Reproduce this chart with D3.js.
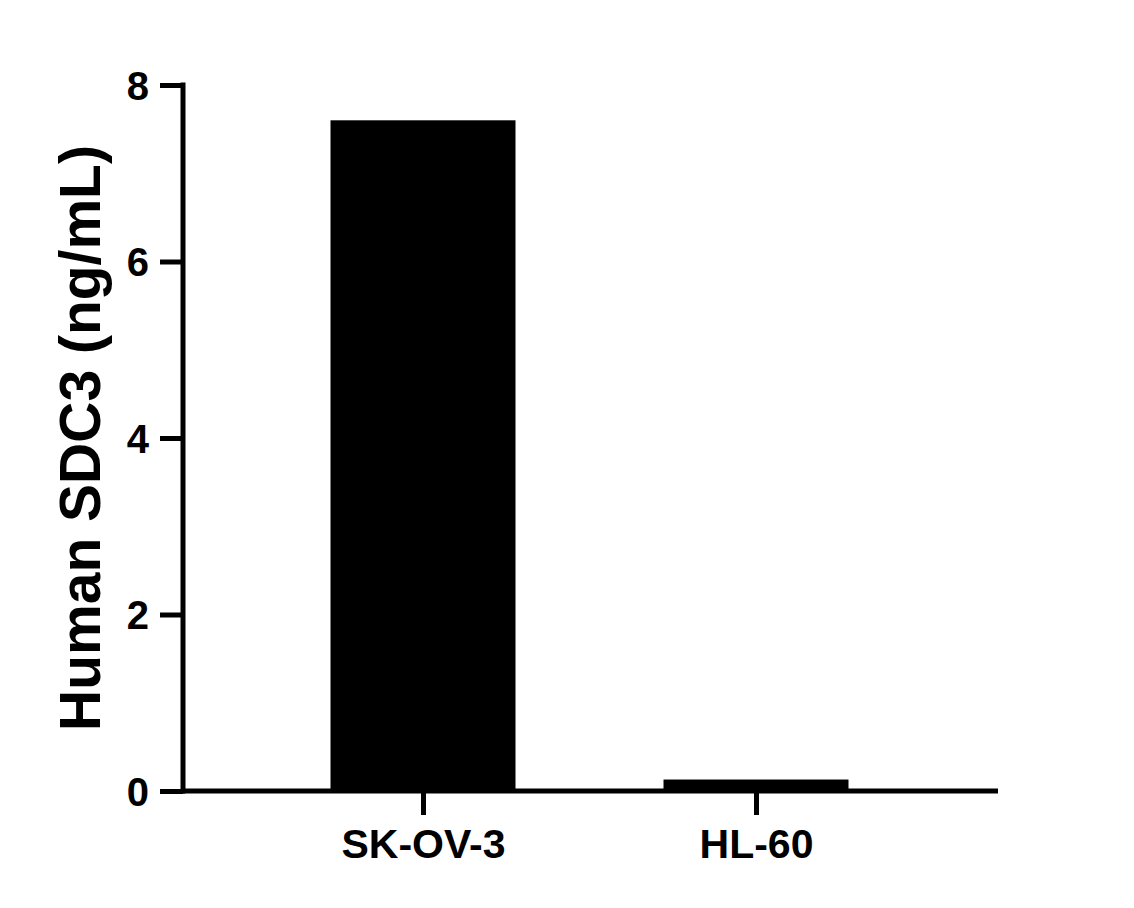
<!DOCTYPE html>
<html><head><meta charset="utf-8">
<script src="https://cdn.jsdelivr.net/npm/d3@7"></script>
<style>body{margin:0;background:#fff}text{font-family:"Liberation Sans",Arial,sans-serif;font-weight:bold;fill:#000}</style>
</head><body>
<svg id="c" width="1134" height="908"></svg>
<script>
const categories = ["SK-OV-3", "HL-60"];
const values = [7.6, 0.13];
const yTicks = [0, 2, 4, 6, 8];

const svg = d3.select("#c");
const x0 = 183, x1 = 998, yTop = 85, yBot = 791;
const y = d3.scaleLinear().domain([0, 8]).range([yBot, yTop]);
const x = d3.scalePoint().domain(categories).range([423, 756]);
const bw = 185;

svg.selectAll("rect.bar").data(values).enter().append("rect")
  .attr("x", (d, i) => x(categories[i]) - bw / 2)
  .attr("y", d => y(d))
  .attr("width", bw)
  .attr("height", d => yBot - y(d))
  .attr("fill", "#000");

const yAxis = svg.append("g").attr("transform", `translate(${x0},0)`)
  .call(d3.axisLeft(y).tickValues(yTicks).tickSize(23).tickPadding(11).tickFormat(d3.format("d")));
yAxis.select(".domain").attr("stroke-width", 5).attr("d", `M0,${yTop - 2.5}V${yBot + 2.5}`);
yAxis.selectAll(".tick line").attr("stroke-width", 5);
yAxis.selectAll(".tick text").style("font-size", "40px").attr("dy", "0.36em");

const xAxis = svg.append("g").attr("transform", `translate(0,${yBot})`)
  .call(d3.axisBottom(x).tickSize(24).tickPadding(14));
xAxis.select(".domain").attr("stroke-width", 5).attr("d", `M${x0},0H${x1}`);
xAxis.selectAll(".tick line").attr("stroke-width", 5);
xAxis.selectAll(".tick text").style("font-size", "41px").attr("dy", "0.71em");

svg.append("text").attr("transform", "translate(100,438) rotate(-90)")
  .attr("text-anchor", "middle").style("font-size", "57px")
  .text("Human SDC3 (ng/mL)");
</script>
</body></html>
